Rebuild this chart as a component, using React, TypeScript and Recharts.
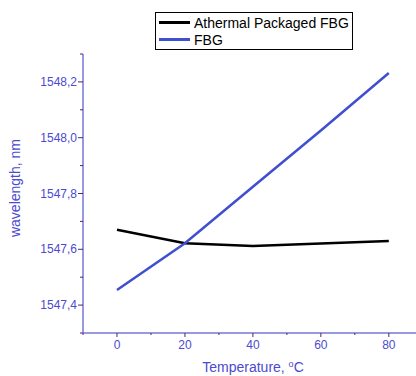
import React from "react";
import { LineChart, Line, XAxis, YAxis } from "recharts";

const temperatures = [0, 20, 40, 60, 80];
const fbg = [1547.454, 1547.622, 1547.824, 1548.026, 1548.232];
const athermal = [1547.67, 1547.622, 1547.612, null, 1547.63];

const xTicks = [-10, 0, 10, 20, 30, 40, 50, 60, 70, 80];
const xMajor = [0, 20, 40, 60, 80];
const yTicks = [1547.3, 1547.4, 1547.5, 1547.6, 1547.7, 1547.8, 1547.9, 1548.0, 1548.1, 1548.2, 1548.3];
const yMajor = [1547.4, 1547.6, 1547.8, 1548.0, 1548.2];

const seriesNames = ["Athermal Packaged FBG", "FBG"];

const data = temperatures.map((t, i) => ({ t, fbg: fbg[i], athermal: athermal[i] }));

const AXIS = "#7676da";
const TICK = "#5c1f6e";
const LABEL = "#4b4bcf";
const FONT = "'Liberation Sans', Arial, sans-serif";

const XTick = (props: any) => {
    const { x, y, payload } = props;
    const major = xMajor.includes(payload.value);
    return (
        <g>
            <line x1={x} x2={x} y1={y} y2={y + (major ? 4 : 2)} stroke={TICK} strokeWidth={1} />
            {major && (
                <text x={x} y={y + 16} textAnchor="middle" fill={LABEL} fontSize={12} fontFamily={FONT}>
                    {payload.value}
                </text>
            )}
        </g>
    );
};

const YTick = (props: any) => {
    const { x, y, payload } = props;
    const major = yMajor.some((v) => Math.abs(v - payload.value) < 1e-6);
    return (
        <g>
            <line x1={x - (major ? 5 : 3)} x2={x} y1={y} y2={y} stroke={TICK} strokeWidth={1} />
            {major && (
                <text x={x - 6} y={y + 4} textAnchor="end" fill={LABEL} fontSize={12} fontFamily={FONT}>
                    {payload.value.toFixed(1).replace(".", ",")}
                </text>
            )}
        </g>
    );
};

const LegendBox = () => (
    <div
        style={{
            position: "absolute",
            left: 155,
            top: 12,
            border: "1px solid #000",
            background: "#fff",
            width: 198,
            height: 38,
            boxSizing: "border-box",
            fontFamily: FONT,
            fontSize: 14,
            color: "#000",
            padding: "1px 0 0 3px",
        }}
    >
        {seriesNames.map((name, i) => (
            <div key={name} style={{ display: "flex", alignItems: "center", height: 17 }}>
                <span style={{ display: "inline-block", width: 31, height: 3, background: i === 0 ? "#000" : "#3e4fcf", marginRight: 4 }} />
                <span>{name}</span>
            </div>
        ))}
    </div>
);

export default function App() {
    return (
        <div style={{ position: "absolute", left: 0, top: 0, width: 416, height: 376, background: "#fff" }}>
            <LineChart width={416} height={376} data={data} margin={{ top: 54, right: 0, left: 23, bottom: 13 }}>
                <XAxis
                    dataKey="t"
                    type="number"
                    domain={[-10, 88]}
                    ticks={xTicks}
                    interval={0}
                    tick={<XTick />}
                    tickSize={0}
                    tickMargin={0}
                    tickLine={false}
                    axisLine={{ stroke: AXIS, strokeWidth: 1.5 }}
                    height={30}
                    allowDataOverflow
                />
                <YAxis
                    type="number"
                    domain={[1547.3, 1548.3]}
                    ticks={yTicks}
                    interval={0}
                    tick={<YTick />}
                    tickSize={0}
                    tickMargin={0}
                    tickLine={false}
                    axisLine={{ stroke: AXIS, strokeWidth: 1.5 }}
                    width={60}
                    allowDataOverflow
                />
                <Line
                    dataKey="athermal"
                    name={seriesNames[0]}
                    stroke="#000"
                    strokeWidth={2.5}
                    dot={false}
                    connectNulls
                    isAnimationActive={false}
                />
                <Line
                    dataKey="fbg"
                    name={seriesNames[1]}
                    stroke="#3e4fcf"
                    strokeWidth={2.5}
                    dot={false}
                    isAnimationActive={false}
                />
            </LineChart>
            <LegendBox />
            <div
                style={{
                    position: "absolute",
                    left: 253,
                    top: 367,
                    transform: "translate(-50%, -50%)",
                    fontFamily: FONT,
                    fontSize: 14,
                    color: LABEL,
                    whiteSpace: "nowrap",
                }}
            >
                Temperature, <sup style={{ fontSize: 9 }}>o</sup>C
            </div>
            <div
                style={{
                    position: "absolute",
                    left: 15,
                    top: 188,
                    transform: "translate(-50%, -50%) rotate(-90deg)",
                    fontFamily: FONT,
                    fontSize: 14,
                    color: LABEL,
                    whiteSpace: "nowrap",
                }}
            >
                wavelength, nm
            </div>
        </div>
    );
}
